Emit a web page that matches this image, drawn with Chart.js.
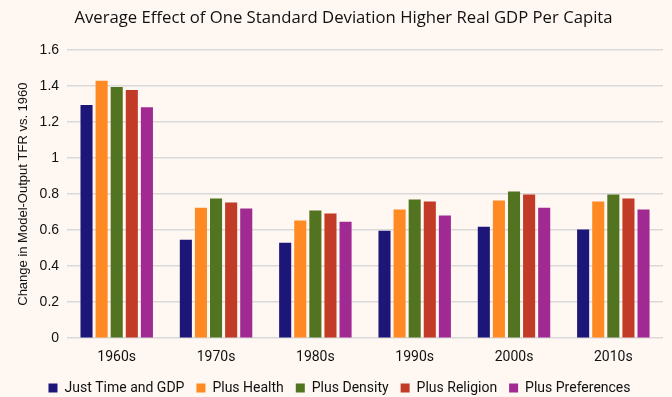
<!DOCTYPE html>
<html>
<head>
<meta charset="utf-8">
<script src="https://cdn.jsdelivr.net/npm/chart.js@4"></script>
<style>
  html, body { margin: 0; padding: 0; background: #fef7f2; }
  #wrap { width: 672px; height: 397px; }
</style>
</head>
<body>
<div id="wrap"><canvas id="myChart" width="672" height="397"></canvas></div>
<script>
const decades = ['1960s', '1970s', '1980s', '1990s', '2000s', '2010s'];
const justTimeGdp = [1.295, 0.547, 0.530, 0.597, 0.619, 0.603];
const plusHealth = [1.429, 0.725, 0.653, 0.714, 0.764, 0.759];
const plusDensity = [1.395, 0.776, 0.709, 0.770, 0.815, 0.798];
const plusReligion = [1.378, 0.753, 0.692, 0.759, 0.798, 0.776];
const plusPreferences = [1.283, 0.720, 0.647, 0.681, 0.725, 0.714];

const seriesNames = ['Just Time and GDP', 'Plus Health', 'Plus Density', 'Plus Religion', 'Plus Preferences'];
const seriesColors = ['#1c1678', '#ff8a24', '#527320', '#c13b26', '#a02a92'];
const seriesData = [justTimeGdp, plusHealth, plusDensity, plusReligion, plusPreferences];

const bgPlugin = {
    id: 'bg',
    beforeDraw(chart) {
        const c = chart.ctx;
        c.save();
        c.fillStyle = '#fef7f2';
        c.fillRect(0, 0, chart.width, chart.height);
        c.restore();
    }
};

// nudge title and legend to the right, like in the original
const nudgePlugin = {
    id: 'nudge',
    afterLayout(chart) {
        if (chart.titleBlock) {
            chart.titleBlock.left += 12;
            chart.titleBlock.right += 12;
        }
        if (chart.legend) {
            chart.legend.left += 8;
            chart.legend.right += 8;
        }
    }
};

const ctx = document.getElementById('myChart').getContext('2d');
new Chart(ctx, {
    type: 'bar',
    data: {
        labels: decades,
        datasets: seriesNames.map((name, i) => ({
            label: name,
            data: seriesData[i],
            backgroundColor: seriesColors[i],
            categoryPercentage: 0.76,
            barPercentage: 0.8
        }))
    },
    options: {
        responsive: false,
        animation: false,
        layout: { padding: { left: 0, right: 9, top: 6, bottom: -8 } },
        plugins: {
            title: {
                display: true,
                text: 'Average Effect of One Standard Deviation Higher Real GDP Per Capita',
                color: '#111',
                font: { family: 'Open Sans', size: 16.7, weight: 'normal' },
                padding: { top: 2, bottom: 22 }
            },
            legend: {
                position: 'bottom',
                labels: {
                    boxWidth: 9,
                    boxHeight: 9,
                    color: '#111',
                    padding: 12,
                    font: { family: 'Roboto', size: 14 }
                }
            },
            tooltip: { enabled: false }
        },
        scales: {
            x: {
                grid: { display: false },
                border: { display: false },
                ticks: {
                    color: '#111',
                    padding: 3,
                    font: { family: 'Roboto', size: 14 }
                }
            },
            y: {
                min: 0,
                max: 1.6,
                ticks: {
                    stepSize: 0.2,
                    color: '#111',
                    padding: 8,
                    font: { family: 'Liberation Sans', size: 14 },
                    callback: v => Math.round(v * 10) / 10
                },
                grid: { color: '#d9d9d9', lineWidth: 1.5, drawTicks: false },
                border: { display: false },
                title: {
                    display: true,
                    text: 'Change in Model-Output TFR vs. 1960',
                    color: '#111',
                    font: { family: 'Liberation Sans', size: 13 },
                    padding: { top: 16, bottom: 0 }
                }
            }
        }
    },
    plugins: [bgPlugin, nudgePlugin]
});
</script>
</body>
</html>
